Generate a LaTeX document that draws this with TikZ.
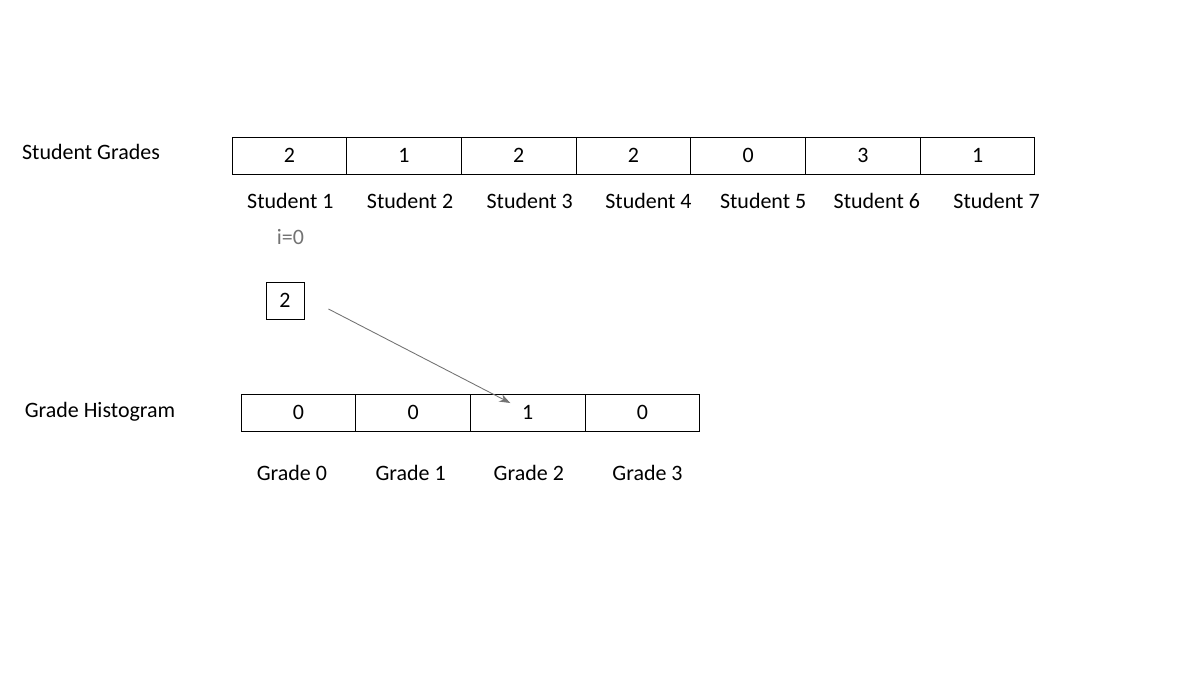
\documentclass[tikz,border=0pt]{standalone}
\usepackage{fontspec}
\setmainfont{Carlito}
\usepackage{tikz}
\usetikzlibrary{positioning,arrows.meta}

\begin{document}
\begin{tikzpicture}[
                node distance=0cm,
                cell/.style={draw, line width=0.55pt, outer sep=0pt, inner sep=0pt, minimum width=2.294cm, minimum height=0.74cm},
                lbl/.style={inner sep=0pt}
            ]
                \useasboundingbox (0,0) rectangle (24,-13.5);
                \fontsize{12.5}{15}\selectfont

                % Student grades array
                \node[lbl] (title1) at (1.82,-3.04) {Student Grades};
                \node[cell] (s1) at (5.787,-3.11) {2};
                \node[cell, right=of s1] (s2) {1};
                \node[cell, right=of s2] (s3) {2};
                \node[cell, right=of s3] (s4) {2};
                \node[cell, right=of s4] (s5) {0};
                \node[cell, right=of s5] (s6) {3};
                \node[cell, right=of s6] (s7) {1};

                \node[lbl, below=0.37cm of s1, xshift=0.02cm] (n1) {Student 1};
                \node[lbl, below=0.37cm of s2, xshift=0.12cm] (n2) {Student 2};
                \node[lbl, below=0.37cm of s3, xshift=0.22cm] (n3) {Student 3};
                \node[lbl, below=0.37cm of s4, xshift=0.30cm] (n4) {Student 4};
                \node[lbl, below=0.37cm of s5, xshift=0.30cm] (n5) {Student 5};
                \node[lbl, below=0.37cm of s6, xshift=0.28cm] (n6) {Student 6};
                \node[lbl, below=0.37cm of s7, xshift=0.38cm] (n7) {Student 7};

                % Current value
                \node[lbl, text=black!55, below=0.40cm of n1] (idx) {i=0};
                \node[draw, line width=0.55pt, inner sep=0pt, minimum width=0.76cm, minimum height=0.74cm] (cur) at (5.70,-6.01) {2};

                % Grade histogram array
                \node[lbl] (title2) at (2.0,-8.24) {Grade Histogram};
                \node[cell] (g0) at (5.968,-8.25) {0};
                \node[cell, right=of g0] (g1) {0};
                \node[cell, right=of g1] (g2) {1};
                \node[cell, right=of g2] (g3) {0};

                \node[lbl, below=0.68cm of g0, xshift=-0.13cm] (h0) {Grade 0};
                \node[lbl, below=0.68cm of g1, xshift=-0.05cm] (h1) {Grade 1};
                \node[lbl, below=0.68cm of g2, xshift=0.02cm] (h2) {Grade 2};
                \node[lbl, below=0.68cm of g3, xshift=0.10cm] (h3) {Grade 3};

                \draw[-{Stealth[length=2.2mm,width=1.6mm]}, black!55, line width=0.5pt] ([shift={(0.48,-0.17)}]cur.east) -- ([shift={(-0.35,0.19)}]g2.center);
            \end{tikzpicture}
\end{document}
